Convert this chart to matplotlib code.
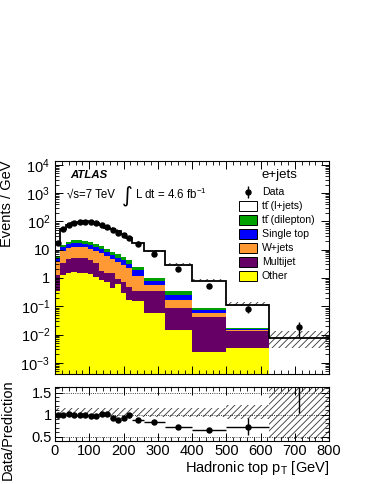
import numpy as np
import matplotlib
matplotlib.use("Agg")
import matplotlib.pyplot as plt
from matplotlib.patches import Rectangle
from matplotlib.ticker import MultipleLocator, FuncFormatter, NullFormatter, FixedLocator

plt.rcParams['font.family'] = ['Liberation Sans', 'DejaVu Sans']
plt.rcParams['mathtext.fontset'] = 'custom'
plt.rcParams['mathtext.rm'] = 'Liberation Sans'
plt.rcParams['mathtext.it'] = 'Liberation Sans:italic'
plt.rcParams['mathtext.bf'] = 'Liberation Sans:bold'
plt.rcParams['hatch.linewidth'] = 0.6

# --- binning (GeV) ---
edges = np.array([0, 16, 32, 48, 64, 80, 96, 112, 128, 144, 160, 176, 192, 208, 224,
                  260, 320, 400, 500, 625, 800])

# --- data, events / GeV ---
data = np.array([17, 52, 75, 90, 97, 98, 93, 85, 74, 62, 50, 40, 32, 25,
                 15.5, 7.3, 2.1, 0.52, 0.082, 0.018])
data_err = np.array([1.0, 1.7, 2.1, 2.3, 2.4, 2.4, 2.4, 2.3, 2.1, 1.9, 1.7, 1.5, 1.4, 1.2,
                     0.6, 0.3, 0.1, 0.04, 0.022, 0.010])

# --- predicted components, events / GeV ---
other = np.array([0.34, 1.3, 1.5, 1.6, 1.5, 1.5, 1.4, 1.1, 0.85, 0.75, 0.45, 0.6, 0.3, 0.17,
                  0.15, 0.06, 0.015, 0.0024, 0.0034, 0])
multijet = np.array([0.96, 2.2, 3.3, 3.7, 3.8, 3.5, 2.8, 2.3, 0.95, 0.75, 1.0, 0.3, 0.4, 0.33,
                     0.2, 0.28, 0.073, 0.040, 0.0096, 0])
wjets = np.array([2.5, 5.5, 6.7, 7.2, 7.2, 7.0, 6.3, 5.6, 5.7, 4.3, 3.15, 2.9, 2.2, 1.8,
                  0.8, 0.24, 0.082, 0.017, 0.001, 0])
single_top = np.array([1.2, 3.0, 4.0, 4.5, 5.0, 4.5, 4.0, 3.5, 2.7, 2.2, 1.9, 1.5, 1.3, 0.9,
                       0.7, 0.22, 0.09, 0.017, 0.002, 0])
tt_dilep = np.array([1.0, 3.0, 3.5, 4.5, 4.5, 4.5, 4.0, 3.5, 2.8, 2.5, 1.8, 1.5, 1.3, 1.1,
                     0.6, 0.2, 0.08, 0.012, 0.001, 0])
tt_ljets = np.array([11.3, 38, 54.5, 68.5, 77, 79, 76.5, 71.6, 59.5, 50.3, 46, 39.2, 29.3, 21.2,
                     15.3, 7.8, 2.56, 0.71, 0.097, 0.0077])

# --- relative systematic uncertainty on the prediction ---
syst_up = np.array([0.15] * 18 + [0.23, 0.8])
syst_down = np.array([0.05] * 18 + [0.11, 0.55])

# --- axis ticks ---
y_decades = [1e-3, 1e-2, 1e-1, 1, 10, 1e2, 1e3, 1e4]
ratio_ticks = [0.5, 1.0, 1.5]

components = [
    (other, '#ffff00', 'Other'),
    (multijet, '#660066', 'Multijet'),
    (wjets, '#ff9933', 'W+jets'),
    (single_top, '#0000ff', 'Single top'),
    (tt_dilep, '#00a000', 'tt\u0304 (dilepton)'),
    (tt_ljets, 'white', 'tt\u0304 (l+jets)'),
]

centers = 0.5 * (edges[1:] + edges[:-1])
half = 0.5 * np.diff(edges)

fig = plt.figure(figsize=(3.74, 4.84), dpi=100)
ax = fig.add_axes([0.147, 0.227, 0.733, 0.441])
ax2 = fig.add_axes([0.147, 0.089, 0.733, 0.1115])

# --- stacked prediction ---
floor = 1e-6
bottom = np.full(len(data), floor)
for vals, col, lab in components:
    top = bottom + vals
    ax.stairs(top, edges, baseline=bottom, fill=True, color=col, lw=0)
    bottom = top
total = bottom - floor

ax.stairs(total * (1 + syst_up), edges, baseline=total * (1 - syst_down), fill=True,
          facecolor='none', edgecolor='#333333', hatch='/////', lw=0)
ax.stairs(total, edges, baseline=None, color='black', lw=1.3)

ax.errorbar(centers, data, yerr=data_err, fmt='o', color='black', ms=3.6,
            lw=1.0, capsize=0)

ax.set_yscale('log')
ax.set_xlim(0, 800)
ax.set_ylim(4e-4, 1.4e4)

def log_fmt(v, pos):
    n = int(round(np.log10(v)))
    if n == 0:
        return '1'
    if n == 1:
        return '10'
    return r'$10^{%d}$' % n

minor_y = [m * d for d in [1e-4] + y_decades for m in range(2, 10)]
minor_y = [v for v in minor_y if 4e-4 <= v <= 1.4e4]
ax.yaxis.set_major_locator(FixedLocator(y_decades))
ax.yaxis.set_minor_locator(FixedLocator(minor_y))
ax.yaxis.set_major_formatter(FuncFormatter(log_fmt))
ax.yaxis.set_minor_formatter(NullFormatter())
ax.xaxis.set_major_locator(MultipleLocator(100))
ax.xaxis.set_minor_locator(MultipleLocator(20))
ax.xaxis.set_major_formatter(NullFormatter())
ax.tick_params(which='both', direction='in', top=True, right=True, labelsize=10.5)
ax.tick_params(which='major', length=6, width=0.7)
ax.tick_params(which='minor', length=3, width=0.6)
ax.set_ylabel('Events / GeV', fontsize=10.5, loc='top')
ax.yaxis.set_label_coords(-0.15, 1.0)

ax.text(0.055, 0.933, 'ATLAS', transform=ax.transAxes, fontsize=8.2,
        fontweight='bold', fontstyle='italic', va='center')
ax.text(0.883, 0.933, 'e+jets', transform=ax.transAxes, fontsize=9.5,
        ha='right', va='center')
ax.text(0.044, 0.84, '√s=7 TeV', transform=ax.transAxes, fontsize=8.3, va='center')
ax.text(0.245, 0.835, '∫', transform=ax.transAxes, fontsize=15, va='center',
        family=['DejaVu Sans'])
ax.text(0.292, 0.84, r'L dt = 4.6 fb$^{-1}$', transform=ax.transAxes, fontsize=8.3,
        va='center')

# --- legend, drawn row by row so the spacing is even ---
leg_x, leg_w, leg_h = 0.672, 0.066, 0.046
leg_text_x = 0.755
leg_rows = 0.853 - 0.0653 * np.arange(7)
ax.errorbar([leg_x + leg_w / 2], [leg_rows[0]], yerr=[0.03], fmt='o', color='black',
            ms=3.6, lw=1.0, capsize=0, transform=ax.transAxes, clip_on=False)
ax.text(leg_text_x, leg_rows[0], 'Data', transform=ax.transAxes, fontsize=7.6, va='center')
for yr, (_, col, lab) in zip(leg_rows[1:], components[::-1]):
    ax.add_patch(Rectangle((leg_x, yr - leg_h / 2), leg_w, leg_h, transform=ax.transAxes,
                           facecolor=col, edgecolor='black', lw=0.7, clip_on=False))
    ax.text(leg_text_x, yr, lab, transform=ax.transAxes, fontsize=7.6, va='center')

# --- ratio panel ---
ratio = data / total
ratio_err = data_err / total
ax2.stairs(1 + syst_up, edges, baseline=1 - syst_down, fill=True,
           facecolor='none', edgecolor='#333333', hatch='/////', lw=0)
for yv in ratio_ticks:
    ax2.axhline(yv, color='black', lw=0.6, ls=':')
ax2.errorbar(centers, ratio, xerr=half, yerr=ratio_err, fmt='o', color='black', ms=3.6,
             lw=1.0, capsize=0)
ax2.set_xlim(0, 800)
ax2.set_ylim(0.4, 1.63)
ax2.yaxis.set_major_locator(FixedLocator(ratio_ticks))
ax2.yaxis.set_major_formatter(FuncFormatter(lambda v, p: '%g' % v))
ax2.yaxis.set_minor_locator(FixedLocator([0.4, 0.6, 0.7, 0.8, 0.9, 1.1, 1.2, 1.3, 1.4, 1.6]))
ax2.yaxis.set_minor_formatter(NullFormatter())
ax2.xaxis.set_major_locator(FixedLocator(np.arange(0, 801, 100)))
ax2.xaxis.set_minor_locator(MultipleLocator(20))
ax2.tick_params(which='both', direction='in', top=True, right=True, labelsize=10.5)
ax2.tick_params(which='major', length=6, width=0.7, pad=2)
ax2.tick_params(which='minor', length=3, width=0.6)
ax2.set_xlabel(r'Hadronic top p$_{\mathrm{T}}$ [GeV]', fontsize=10.5, loc='right', labelpad=1)
fig.text(0.02, 0.112, 'Data/Prediction', fontsize=10.5, rotation=90, ha='center', va='center')

fig.savefig('out.png', dpi=100)
